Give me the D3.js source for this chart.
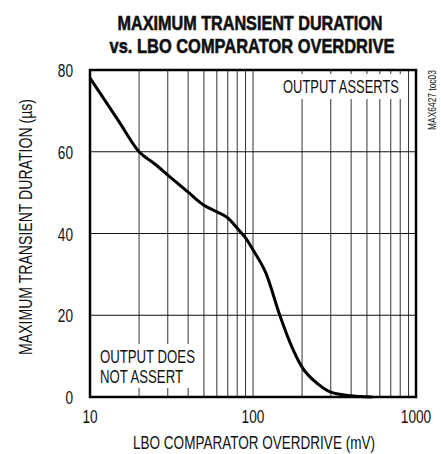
<!DOCTYPE html>
<html>
<head>
<meta charset="utf-8">
<script src="https://cdn.jsdelivr.net/npm/d3@7"></script>
<style>
  body { margin: 0; background: #fff; }
  svg { display: block; }
  text { font-family: "Liberation Sans", Arial, sans-serif; fill: #111; }
</style>
</head>
<body>
<svg id="chart" width="441" height="454"></svg>
<script>
// overdrive (mV) vs maximum transient duration (us)
const overdrive = [10, 12, 15, 20, 25, 30, 40, 50, 60, 70, 80, 90, 100, 120, 146, 170, 200, 250, 300, 400, 540]
const duration = [78, 73.3, 67.5, 60, 57, 54.3, 50.1, 46.9, 45.3, 43.8, 41.3, 38.9, 36, 30.3, 20, 13, 7.3, 3.2, 1.2, 0.3, 0]

const xTicks = [10, 100, 1000]
const yTicks = [0, 20, 40, 60, 80]
const xGrid = [20, 30, 40, 50, 60, 70, 80, 90, 100, 200, 300, 400, 500, 600, 700, 800, 900]
const yGrid = [20, 40, 60]

const svg = d3.select("#chart")
const plotL = 90, plotR = 416, plotT = 70, plotB = 397

const x = d3.scaleLog().domain([10, 1000]).range([plotL, plotR])
const y = d3.scaleLinear().domain([0, 80]).range([plotB, plotT])

// condensed text: squeeze horizontally to width w, placed at (tx,ty), optional rotation
const label = (str, tx, ty, w, size, opts = {}) => {
  const t = svg.append("text")
    .attr("text-anchor", opts.anchor || "start")
    .style("font-size", size + "px")
    .style("font-weight", opts.bold ? "bold" : null)
    .text(str)
  if (opts.bold) t.attr("stroke", "#111").attr("stroke-width", 0.6)
  const sx = w / t.node().getComputedTextLength()
  t.attr("transform", `translate(${tx},${ty})` + (opts.rotate ? ` rotate(${opts.rotate})` : "") + ` scale(${sx},1)`)
  return t
}

// title
label("MAXIMUM TRANSIENT DURATION", 250, 30, 265, 20, { anchor: "middle", bold: true })
label("vs. LBO COMPARATOR OVERDRIVE", 252, 53, 285, 20, { anchor: "middle", bold: true })

// grid
svg.append("g")
  .selectAll("line")
  .data(xGrid)
  .enter()
  .append("line")
  .attr("x1", (d) => x(d))
  .attr("x2", (d) => x(d))
  .attr("y1", plotT)
  .attr("y2", plotB)
  .attr("stroke", "#333")
  .attr("stroke-width", 1)

svg.append("g")
  .selectAll("line")
  .data(yGrid)
  .enter()
  .append("line")
  .attr("x1", plotL)
  .attr("x2", plotR)
  .attr("y1", (d) => y(d))
  .attr("y2", (d) => y(d))
  .attr("stroke", "#111")
  .attr("stroke-width", 1)

// white boxes behind annotations
svg.append("rect").attr("x", 278).attr("y", 74).attr("width", 128).attr("height", 25).attr("fill", "#fff")
svg.append("rect").attr("x", 96).attr("y", 344).attr("width", 104).attr("height", 44).attr("fill", "#fff")

label("OUTPUT ASSERTS", 283, 93, 116, 19)
label("OUTPUT DOES", 100, 363, 95, 19)
label("NOT ASSERT", 100, 383, 83, 19)

// curve
const line = d3.line()
  .x((d, i) => x(overdrive[i]))
  .y((d) => y(d))
  .curve(d3.curveMonotoneX)

svg.append("path")
  .datum(duration)
  .attr("d", line)
  .attr("fill", "none")
  .attr("stroke", "#000")
  .attr("stroke-width", 3)

// frame
svg.append("rect")
  .attr("x", plotL).attr("y", plotT)
  .attr("width", plotR - plotL).attr("height", plotB - plotT)
  .attr("fill", "none")
  .attr("stroke", "#000")
  .attr("stroke-width", 2.5)

// tick labels
yTicks.forEach((d) => label(String(d), 73, y(d) + 7, String(d).length * 7.6, 19, { anchor: "end" }))
xTicks.forEach((d) => label(String(d), x(d), 423, String(d).length * 7.6, 19, { anchor: "middle" }))

// axis titles
label("LBO COMPARATOR OVERDRIVE (mV)", 254, 449, 242, 19, { anchor: "middle" })
label("MAXIMUM TRANSIENT DURATION (\u00b5s)", 32, 227, 256, 19, { anchor: "middle", rotate: -90 })
label("MAX6427 toc03", 436, 100, 60, 10, { anchor: "middle", rotate: -90 })
</script>
</body>
</html>
